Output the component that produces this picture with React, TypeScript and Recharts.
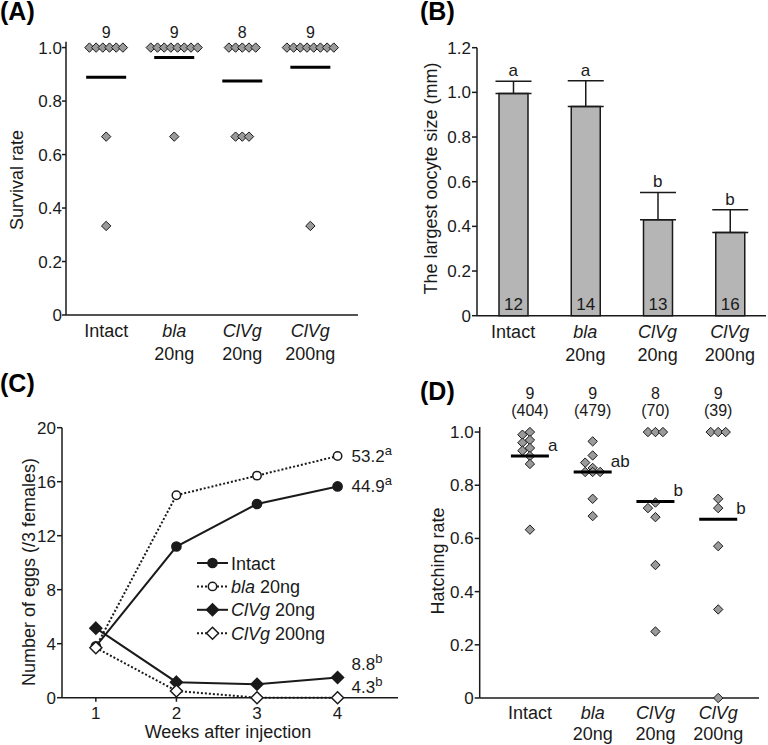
import React from "react";
import {
  Bar,
  ComposedChart,
  ErrorBar,
  LabelList,
  Line,
  LineChart,
  Scatter,
  ScatterChart,
  XAxis,
  YAxis,
} from "recharts";

const FONT = '"Liberation Sans", Arial, Helvetica, sans-serif';
const INK = "#1a1a1a";
const DIAMOND_FILL = "#9a9a9a";
const BAR_FILL = "#b5b5b5";

// groups shared by panels A, B and D
const groupTop = ["Intact", "bla", "ClVg", "ClVg"];
const groupBottom = ["", "20ng", "20ng", "200ng"];

// (A) survival rate per female
const survivalIntact = [1, 1, 1, 1, 1, 1, 0.667, 0.333];
const survivalBla = [1, 1, 1, 1, 1, 1, 1, 1, 0.667];
const survivalClvg20 = [1, 1, 1, 1, 1, 0.667, 0.667, 0.667];
const survivalClvg200 = [1, 1, 1, 1, 1, 1, 1, 1, 0.333];
const survivalMean = [0.889, 0.963, 0.875, 0.926];
const survivalN = [9, 9, 8, 9];

// (B) largest oocyte size
const oocyteMean = [0.995, 0.937, 0.43, 0.372];
const oocyteSE = [0.055, 0.115, 0.122, 0.102];
const oocyteN = [12, 14, 13, 16];
const oocyteLetter = ["a", "a", "b", "b"];

// (C) eggs per week
const weeks = [1, 2, 3, 4];
const eggsIntact = [3.8, 11.2, 14.35, 15.65];
const eggsBla = [3.75, 15.0, 16.45, 17.9];
const eggsClvg20 = [5.15, 1.15, 1.0, 1.5];
const eggsClvg200 = [3.7, 0.5, 0, 0];
const eggTotals = ["44.9", "53.2", "8.8", "4.3"];
const eggLetters = ["a", "a", "b", "b"];

// (D) hatching rate
const hatchIntact = [1.0, 0.99, 0.97, 0.96, 0.94, 0.93, 0.91, 0.88, 0.633];
const hatchBla = [0.965, 0.912, 0.885, 0.865, 0.85, 0.85, 0.85, 0.749, 0.684];
const hatchClvg20 = [1, 1, 1, 0.735, 0.714, 0.68, 0.5, 0.25];
const hatchClvg200 = [1, 1, 1, 0.749, 0.714, 0.571, 0.333, 0];
const hatchMean = [0.91, 0.85, 0.739, 0.672];
const hatchN = [9, 9, 8, 9];
const hatchEggs = [404, 479, 70, 39];
const hatchLetter = ["a", "ab", "b", "b"];

const fmt1 = (v: number) => (v === 0 ? "0" : v.toFixed(1));
const tickStyle = { fill: INK, fontSize: 17, fontFamily: FONT };
const axisStroke = { stroke: INK, strokeWidth: 1.5 };

// spread points of one group sideways so diamonds don't sit on each other
function swarm(values: number[], pxPerUnit: number, step: number) {
  const counts = new Map<number, number>();
  values.forEach((v) => counts.set(v, (counts.get(v) || 0) + 1));
  const out = values.map((v) => ({ v, dx: 0 }));
  const placed: { dx: number; py: number }[] = [];
  values.forEach((v, i) => {
    if (counts.get(v)! > 1) return;
    const py = v * pxPerUnit;
    for (let k = 0; k < 30; k++) {
      const dx = k === 0 ? 0 : (k % 2 ? -1 : 1) * Math.ceil(k / 2) * step;
      if (placed.every((p) => Math.abs(p.dx - dx) + Math.abs(p.py - py) >= step)) {
        out[i].dx = dx;
        placed.push({ dx, py });
        break;
      }
    }
  });
  const seen = new Map<number, number>();
  values.forEach((v, i) => {
    const n = counts.get(v)!;
    if (n < 2) return;
    const j = seen.get(v) || 0;
    seen.set(v, j + 1);
    out[i].dx = (j - (n - 1) / 2) * step;
  });
  return out;
}

function dotRows(groups: number[][], pxPerUnit: number, step: number) {
  return groups.flatMap((vals, g) =>
    swarm(vals, pxPerUnit, step).map((p) => ({ x: g + 1, y: p.v, dx: p.dx }))
  );
}

function diamondPath(x: number, y: number, h: number) {
  return `M${x},${y - h}L${x + h},${y}L${x},${y + h}L${x - h},${y}Z`;
}

const GrayDiamond = (props: any) => {
  const { cx, cy, payload } = props;
  return (
    <path
      d={diamondPath(cx + payload.dx, cy, 4.7)}
      fill={DIAMOND_FILL}
      stroke={INK}
      strokeWidth={1}
    />
  );
};

const MeanBar = (width: number) => (props: any) => {
  const { cx, cy } = props;
  return <line x1={cx - width / 2} x2={cx + width / 2} y1={cy} y2={cy} stroke="#000" strokeWidth={3} />;
};

function CategoryTick(props: any) {
  const { x, y, index, first, second } = props;
  const i = index;
  const common = { textAnchor: "middle" as const, fontSize: 18, fontFamily: FONT, fill: INK };
  return (
    <g>
      <text x={x} y={y + first} {...common} fontStyle={i === 0 ? "normal" : "italic"}>
        {groupTop[i]}
      </text>
      {groupBottom[i] ? (
        <text x={x} y={y + second} {...common}>
          {groupBottom[i]}
        </text>
      ) : null}
    </g>
  );
}

function SurvivalPanel() {
  const pxPerUnit = 273.3 / 1.022;
  const points = dotRows([survivalIntact, survivalBla, survivalClvg20, survivalClvg200], pxPerUnit, 6.7);
  const means = survivalMean.map((m, i) => ({ x: i + 1, y: m }));
  const counts = survivalN.map((n, i) => ({ x: i + 1, y: 1, n }));
  return (
    <ScatterChart width={384} height={372} margin={{ top: 41.7, right: 26, bottom: 0, left: 0 }}>
      <XAxis
        type="number"
        dataKey="x"
        domain={[0.41, 4.7]}
        ticks={[1, 2, 3, 4]}
        height={57}
        axisLine={axisStroke}
        tickLine={false}
        tickSize={0}
        tickMargin={0}
        tick={<CategoryTick first={22} second={45} />}
      />
      <YAxis
        type="number"
        dataKey="y"
        domain={[0, 1.022]}
        ticks={[0, 0.2, 0.4, 0.6, 0.8, 1.0]}
        tickFormatter={fmt1}
        width={66}
        axisLine={axisStroke}
        tickLine={axisStroke}
        tickSize={4}
        tickMargin={0}
        tick={tickStyle}
      />
      <Scatter data={points} shape={GrayDiamond} isAnimationActive={false} />
      <Scatter data={means} shape={MeanBar(40)} isAnimationActive={false} />
      <Scatter
        data={counts}
        isAnimationActive={false}
        shape={(p: any) => (
          <text x={p.cx} y={p.cy - 10} textAnchor="middle" fontSize={16} fontFamily={FONT} fill={INK}>
            {p.payload.n}
          </text>
        )}
      />
    </ScatterChart>
  );
}

function OocytePanel() {
  const rows = groupTop.map((name, i) => ({
    name: `${name} ${groupBottom[i]}`,
    mean: oocyteMean[i],
    err: [0, oocyteSE[i]],
    top: oocyteMean[i] + oocyteSE[i],
    n: oocyteN[i],
  }));
  return (
    <ComposedChart width={384} height={372} data={rows} margin={{ top: 47.7, right: 2, bottom: 0, left: 0 }}>
      <XAxis
        dataKey="name"
        type="category"
        height={56.3}
        axisLine={axisStroke}
        tickLine={false}
        tickSize={0}
        tickMargin={0}
        interval={0}
        tick={<CategoryTick first={22.6} second={45.3} />}
      />
      <YAxis
        type="number"
        domain={[0, 1.2]}
        ticks={[0, 0.2, 0.4, 0.6, 0.8, 1.0, 1.2]}
        tickFormatter={fmt1}
        width={93}
        axisLine={axisStroke}
        tickLine={axisStroke}
        tickSize={5}
        tickMargin={1}
        tick={tickStyle}
      />
      <Bar dataKey="mean" barSize={29} fill={BAR_FILL} stroke={INK} strokeWidth={1.5} isAnimationActive={false}>
        <ErrorBar dataKey="err" direction="y" width={18} stroke={INK} strokeWidth={1.5} />
        <LabelList dataKey="n" position="insideBottom" offset={6} fill={INK} fontSize={17} fontFamily={FONT} />
      </Bar>
      <Line
        dataKey="top"
        stroke="none"
        isAnimationActive={false}
        activeDot={false}
        dot={(p: any) => (
          <text key={`l-${p.index}`} x={p.cx} y={p.cy - 5} textAnchor="middle" fontSize={17} fontFamily={FONT} fill={INK}>
            {oocyteLetter[p.index]}
          </text>
        )}
      />
    </ComposedChart>
  );
}

const eggSeries = [
  { key: "intact", name: "Intact", italic: "", values: eggsIntact, dashed: false, shape: "circle", filled: true, labelDy: 0 },
  { key: "bla", name: " 20ng", italic: "bla", values: eggsBla, dashed: true, shape: "circle", filled: false, labelDy: 0 },
  { key: "clvg20", name: " 20ng", italic: "ClVg", values: eggsClvg20, dashed: false, shape: "diamond", filled: true, labelDy: -13 },
  { key: "clvg200", name: " 200ng", italic: "ClVg", values: eggsClvg200, dashed: true, shape: "diamond", filled: false, labelDy: -10.7 },
];

function EggMarker({ shape, filled, cx, cy }: { shape: string; filled: boolean; cx: number; cy: number }) {
  const fill = filled ? INK : "#fff";
  if (shape === "circle") {
    return <circle cx={cx} cy={cy} r={filled ? 4.6 : 4.2} fill={fill} stroke={INK} strokeWidth={1.5} />;
  }
  return <path d={diamondPath(cx, cy, 6)} fill={fill} stroke={INK} strokeWidth={1.5} />;
}

function EggPanel() {
  const rows = weeks.map((w, i) => ({
    week: w,
    intact: eggsIntact[i],
    bla: eggsBla[i],
    clvg20: eggsClvg20[i],
    clvg200: eggsClvg200[i],
  }));
  return (
    <LineChart width={420} height={373} data={rows} margin={{ top: 55.7, right: 22, bottom: 0, left: 0 }}>
      <XAxis
        type="number"
        dataKey="week"
        domain={[0.58, 4.75]}
        ticks={weeks}
        height={47.3}
        axisLine={axisStroke}
        tickLine={axisStroke}
        tickSize={4}
        tickMargin={5}
        tick={tickStyle}
      />
      <YAxis
        type="number"
        domain={[0, 20]}
        ticks={[0, 4, 8, 12, 16, 20]}
        width={62}
        axisLine={axisStroke}
        tickLine={axisStroke}
        tickSize={5}
        tickMargin={1}
        tick={tickStyle}
      />
      {eggSeries.map((s, si) => (
        <Line
          key={s.key}
          dataKey={s.key}
          type="linear"
          stroke={INK}
          strokeWidth={2}
          strokeDasharray={s.dashed ? "2 2" : undefined}
          isAnimationActive={false}
          activeDot={false}
          dot={(p: any) => (
            <g key={`${s.key}-${p.index}`}>
              <EggMarker shape={s.shape} filled={s.filled} cx={p.cx} cy={p.cy} />
              {p.index === weeks.length - 1 ? (
                <text x={p.cx + 14} y={p.cy + s.labelDy + 6} fontSize={17} fontFamily={FONT} fill={INK}>
                  {eggTotals[si]}
                  <tspan dy={-7} fontSize={13}>
                    {eggLetters[si]}
                  </tspan>
                </text>
              ) : null}
            </g>
          )}
        />
      ))}
    </LineChart>
  );
}

function HatchPanel() {
  const pxPerUnit = 271 / 1.019;
  const points = dotRows([hatchIntact, hatchBla, hatchClvg20, hatchClvg200], pxPerUnit, 7.5);
  const means = hatchMean.map((m, i) => ({ x: i + 1, y: m, letter: hatchLetter[i] }));
  const heads = hatchN.map((n, i) => ({ x: i + 1, y: 1, n, eggs: hatchEggs[i] }));
  return (
    <ScatterChart width={384} height={373} margin={{ top: 55, right: 9, bottom: 0, left: 0 }}>
      <XAxis
        type="number"
        dataKey="x"
        domain={[0.2, 4.65]}
        ticks={[1, 2, 3, 4]}
        height={47}
        axisLine={axisStroke}
        tickLine={false}
        tickSize={0}
        tickMargin={0}
        tick={<CategoryTick first={20.7} second={42.3} />}
      />
      <YAxis
        type="number"
        dataKey="y"
        domain={[0, 1.019]}
        ticks={[0, 0.2, 0.4, 0.6, 0.8, 1.0]}
        tickFormatter={fmt1}
        width={95.7}
        axisLine={axisStroke}
        tickLine={axisStroke}
        tickSize={5}
        tickMargin={1}
        tick={tickStyle}
      />
      <Scatter data={points} shape={GrayDiamond} isAnimationActive={false} />
      <Scatter
        data={means}
        isAnimationActive={false}
        shape={(p: any) => (
          <g>
            {MeanBar(38)(p)}
            <text x={p.cx + 18} y={p.cy - 5} fontSize={17} fontFamily={FONT} fill={INK}>
              {p.payload.letter}
            </text>
          </g>
        )}
      />
      <Scatter
        data={heads}
        isAnimationActive={false}
        shape={(p: any) => (
          <g fontSize={16} fontFamily={FONT} fill={INK} textAnchor="middle">
            <text x={p.cx} y={p.cy - 33.5}>{p.payload.n}</text>
            <text x={p.cx} y={p.cy - 16}>({p.payload.eggs})</text>
          </g>
        )}
      />
    </ScatterChart>
  );
}

function Overlay() {
  const title = { fontSize: 18, fontFamily: FONT, fill: INK, textAnchor: "middle" as const };
  const panel = { fontSize: 25, fontFamily: FONT, fill: "#000", fontWeight: 700 };
  return (
    <svg width={768} height={745} style={{ position: "absolute", left: 0, top: 0, pointerEvents: "none" }}>
      <text x={0} y={20} {...panel}>(A)</text>
      <text x={420} y={20} {...panel}>(B)</text>
      <text x={0} y={392} {...panel}>(C)</text>
      <text x={420} y={400} {...panel}>(D)</text>
      <text transform="translate(23.3,180) rotate(-90)" {...title}>Survival rate</text>
      <text transform="translate(437,178.5) rotate(-90)" {...title}>The largest oocyte size (mm)</text>
      <text transform="translate(34.7,572) rotate(-90)" {...title}>Number of eggs (/3 females)</text>
      <text transform="translate(443.7,561) rotate(-90)" {...title}>Hatching rate</text>
      <text x={228} y={738.4} {...title}>Weeks after injection</text>
      {eggSeries.map((s, i) => {
        const cy = 563 + i * 23.4;
        return (
          <g key={s.key}>
            <line
              x1={197}
              x2={228}
              y1={cy}
              y2={cy}
              stroke={INK}
              strokeWidth={2}
              strokeDasharray={s.dashed ? "2 2" : undefined}
            />
            <EggMarker shape={s.shape} filled={s.filled} cx={212.5} cy={cy} />
            <text x={231} y={cy + 6.5} fontSize={18} fontFamily={FONT} fill={INK}>
              {s.italic ? <tspan fontStyle="italic">{s.italic}</tspan> : null}
              {s.key === "intact" ? "Intact" : s.name}
            </text>
          </g>
        );
      })}
    </svg>
  );
}

export default function App() {
  return (
    <div style={{ position: "absolute", left: 0, top: 0, width: 768, height: 745, background: "#fff", overflow: "hidden" }}>
      <div style={{ position: "absolute", left: 0, top: 0 }}>
        <SurvivalPanel />
      </div>
      <div style={{ position: "absolute", left: 384, top: 0 }}>
        <OocytePanel />
      </div>
      <div style={{ position: "absolute", left: 0, top: 372 }}>
        <EggPanel />
      </div>
      <div style={{ position: "absolute", left: 384, top: 372 }}>
        <HatchPanel />
      </div>
      <Overlay />
    </div>
  );
}
